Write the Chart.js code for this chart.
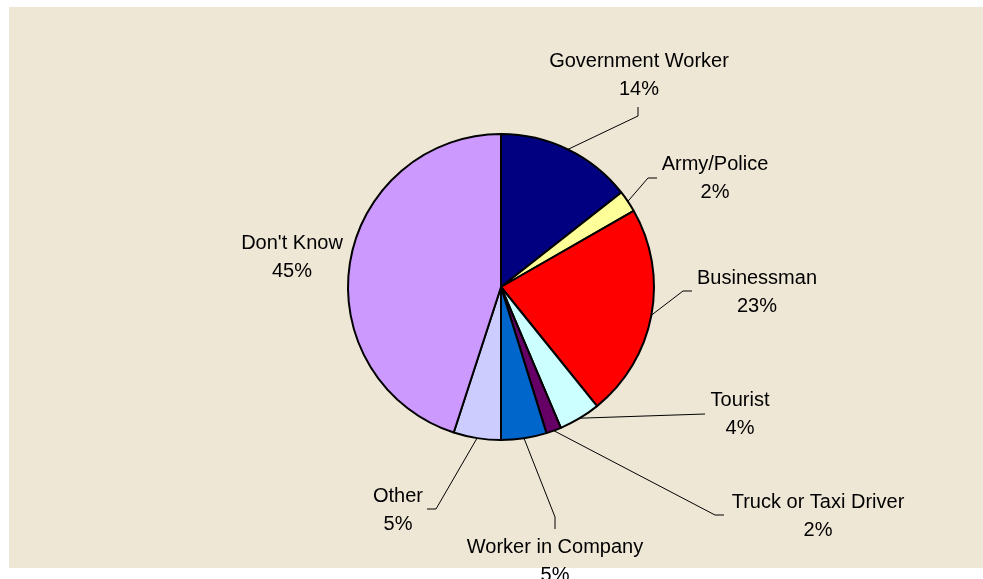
<!DOCTYPE html>
<html>
<head>
<meta charset="utf-8">
<script src="https://cdn.jsdelivr.net/npm/chart.js@4/dist/chart.umd.min.js"></script>
<style>
  html, body { margin: 0; padding: 0; background: #ffffff; }
  #wrap { position: relative; width: 983px; height: 579px; }
</style>
</head>
<body>
<div id="wrap"><canvas id="occupationChart" width="983" height="579"></canvas></div>
<script>
// categories, clockwise from 12 o'clock
const categories = ['Government Worker', 'Army/Police', 'Businessman', 'Tourist',
  'Truck or Taxi Driver', 'Worker in Company', 'Other', "Don't Know"];
// share of respondents, %
const shares = [14.4, 2.3, 22.5, 4.4, 1.6, 4.8, 5.0, 45.0];
const sliceColors = ['#000080', '#ffff99', '#ff0000', '#ccffff',
  '#660066', '#0066cc', '#ccccff', '#cc99ff'];

// label placement: text centre x, first baseline y, leader elbow and end (null = no leader)
const labelLayout = [
  { x: 639, y: 67, elbow: [638, 116], end: [638, 107] },
  { x: 715, y: 170, elbow: [648, 178], end: [657, 178] },
  { x: 757, y: 284, elbow: [683, 291], end: [692, 291] },
  { x: 740, y: 406, elbow: [705, 414], end: [705, 414] },
  { x: 818, y: 508, elbow: [715, 515], end: [724, 515] },
  { x: 555, y: 553, elbow: [555, 517], end: [555, 529] },
  { x: 398, y: 502, elbow: [436, 509], end: [427, 509] },
  { x: 292, y: 249, elbow: null, end: null }
];

const backdrop = {
  id: 'backdrop',
  beforeDraw(chart) {
    const ctx = chart.ctx;
    ctx.save();
    ctx.fillStyle = '#efe7d6';
    ctx.fillRect(9, 7, 983 - 9, 568 - 7);
    ctx.restore();
  }
};

const sliceLabels = {
  id: 'sliceLabels',
  afterDraw(chart) {
    const ctx = chart.ctx;
    const arcs = chart.getDatasetMeta(0).data;
    ctx.save();
    ctx.strokeStyle = '#000000';
    ctx.lineWidth = 1;
    arcs.forEach((arc, i) => {
      const lay = labelLayout[i];
      if (lay.elbow) {
        const mid = (arc.startAngle + arc.endAngle) / 2;
        const sx = arc.x + Math.cos(mid) * arc.outerRadius;
        const sy = arc.y + Math.sin(mid) * arc.outerRadius;
        ctx.beginPath();
        ctx.moveTo(sx, sy);
        ctx.lineTo(lay.elbow[0], lay.elbow[1]);
        ctx.lineTo(lay.end[0], lay.end[1]);
        ctx.stroke();
      }
      ctx.fillStyle = '#000000';
      ctx.font = '20px "Liberation Sans", Arial, sans-serif';
      ctx.textAlign = 'center';
      ctx.textBaseline = 'alphabetic';
      ctx.fillText(categories[i], lay.x, lay.y);
      ctx.fillText(Math.round(shares[i]) + '%', lay.x, lay.y + 28);
    });
    ctx.restore();
  }
};

const occupationCtx = document.getElementById('occupationChart').getContext('2d');

const occupationChart = new Chart(occupationCtx, {
  type: 'pie',
  data: {
    labels: categories,
    datasets: [{
      data: shares,
      backgroundColor: sliceColors,
      borderColor: '#000000',
      borderWidth: 2
    }]
  },
  options: {
    responsive: false,
    animation: false,
    layout: {
      padding: { left: 347, right: 328, top: 133, bottom: 138 }
    },
    plugins: {
      legend: { display: false },
      tooltip: { enabled: false }
    }
  },
  plugins: [backdrop, sliceLabels]
});
</script>
</body>
</html>
